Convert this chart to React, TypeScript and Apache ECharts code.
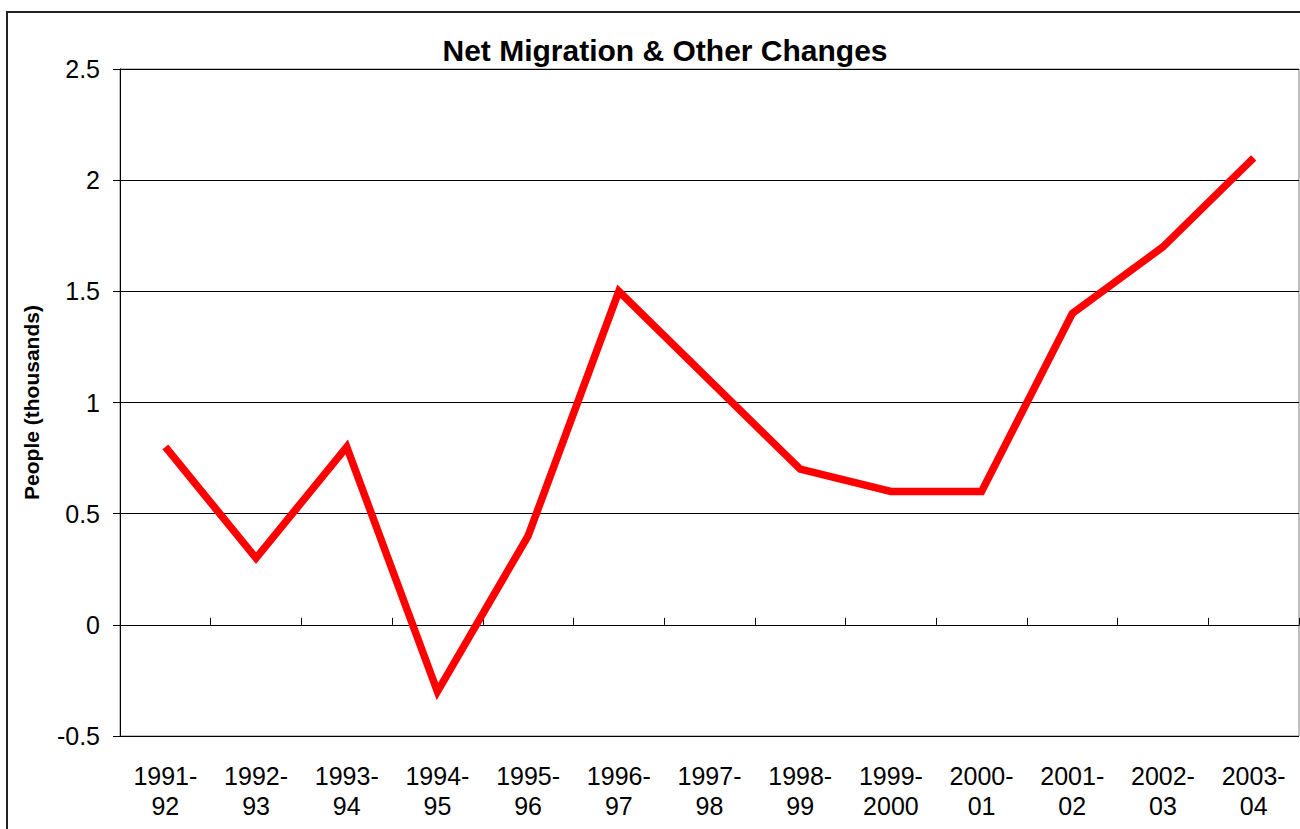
import React, { useEffect, useRef } from "react";
import * as echarts from "echarts";

const categories = [
  "1991-\n92", "1992-\n93", "1993-\n94", "1994-\n95", "1995-\n96", "1996-\n97",
  "1997-\n98", "1998-\n99", "1999-\n2000", "2000-\n01", "2001-\n02", "2002-\n03", "2003-\n04",
];
const netMigration = [0.8, 0.3, 0.8, -0.3, 0.4, 1.5, 1.1, 0.7, 0.6, 0.6, 1.4, 1.7, 2.1];
const yMin = -0.5;
const yMax = 2.5;
const yStep = 0.5;

const FONT = "'Liberation Sans', Arial, sans-serif";

export default function App() {
  const ref = useRef<HTMLDivElement>(null);
  useEffect(() => {
    if (!ref.current) return;
    const chart = echarts.init(ref.current, null, { renderer: "svg" });
    chart.setOption({
      animation: false,
      backgroundColor: "#fff",
      title: {
        text: "Net Migration & Other Changes",
        left: 660,
        top: 30,
        textAlign: "center",
        textStyle: { fontFamily: FONT, fontWeight: "bold", fontSize: 30, color: "#000" },
      },
      graphic: [
        {
          type: "rect",
          shape: { x: 7, y: 12, width: 1400, height: 900 },
          style: { fill: "none", stroke: "#222", lineWidth: 2 },
          silent: true,
        },
      ],
      grid: {
        left: 120,
        top: 69,
        right: 1,
        bottom: 93,
        show: true,
        borderColor: "#808080",
        borderWidth: 1,
        backgroundColor: "transparent",
      },
      xAxis: [
        {
          type: "category",
          data: categories,
          position: "bottom",
          boundaryGap: true,
          axisLine: { show: false, onZero: false },
          axisTick: { show: false },
          axisLabel: {
            interval: 0,
            margin: 25,
            fontFamily: FONT,
            fontSize: 25,
            color: "#000",
            lineHeight: 30,
            align: "center",
          },
          splitLine: { show: false },
        },
        {
          type: "category",
          data: categories,
          boundaryGap: true,
          axisLine: { show: true, onZero: true, lineStyle: { color: "#000", width: 1 } },
          axisTick: { show: true, inside: false, length: 7, interval: 0, lineStyle: { color: "#000" } },
          axisLabel: { show: false },
          splitLine: { show: false },
        },
      ],
      yAxis: {
        type: "value",
        min: yMin,
        max: yMax,
        interval: yStep,
        name: "People (thousands)",
        nameLocation: "middle",
        nameGap: 78,
        nameRotate: 90,
        nameTextStyle: { fontFamily: FONT, fontWeight: "bold", fontSize: 21, color: "#000" },
        axisLine: { show: true, onZero: false, lineStyle: { color: "#000", width: 1 } },
        axisTick: { show: true, inside: false, length: 7, lineStyle: { color: "#000" } },
        axisLabel: { margin: 20, fontFamily: FONT, fontSize: 25, color: "#000" },
        splitLine: { show: true, lineStyle: { color: "#000", width: 1 } },
      },
      series: [
        {
          type: "line",
          xAxisIndex: 0,
          data: netMigration,
          symbol: "none",
          lineStyle: { color: "#ff0000", width: 7.5, join: "miter" },
          itemStyle: { color: "#ff0000" },
        },
      ],
    });
    return () => chart.dispose();
  }, []);
  return (
    <div
      ref={ref}
      style={{ position: "absolute", left: 0, top: 0, width: 1300, height: 829 }}
    />
  );
}
